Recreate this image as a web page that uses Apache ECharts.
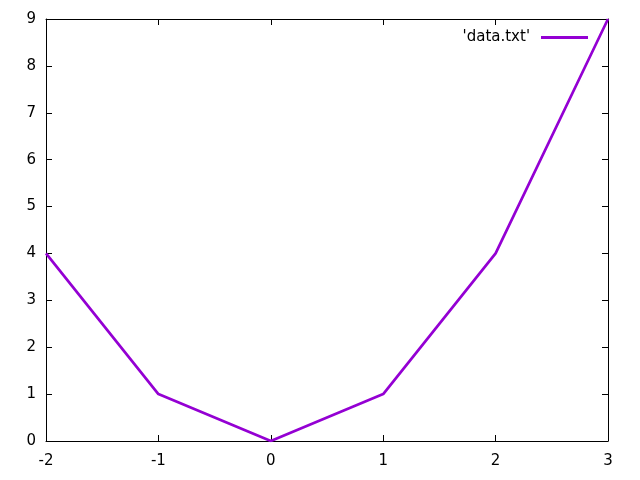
<!DOCTYPE html>
<html><head><meta charset="utf-8">
<script src="https://cdn.jsdelivr.net/npm/echarts@6/dist/echarts.min.js"></script>
<style>html,body{margin:0;padding:0;background:#fff}#c{width:640px;height:480px}</style>
</head><body><div id="c"></div>
<script>
const xValues = [-2, -1, 0, 1, 2, 3];
const yValues = [4, 1, 0, 1, 4, 9];
const seriesName = "'data.txt'";
const FONT = 'DejaVu Sans';
const FS = 15;
const chart = echarts.init(document.getElementById('c'), null, {renderer: 'canvas'});
const axisCommon = {
  type: 'value',
  interval: 1,
  axisLine: {show: true, onZero: false, lineStyle: {color: '#000', width: 1}},
  axisTick: {show: true, inside: true, length: 6, lineStyle: {color: '#000', width: 1}},
  splitLine: {show: false}
};
chart.setOption({
  animation: false,
  backgroundColor: '#fff',
  grid: {left: 46, right: 32, top: 19, bottom: 39, containLabel: false},
  legend: {
    show: true, right: 52, top: 30, align: 'right', padding: 0,
    itemWidth: 47, itemHeight: 3, icon: 'rect',
    textStyle: {fontFamily: FONT, fontSize: FS, color: '#000', padding: [0, 6, 0, 0]},
    data: [seriesName]
  },
  xAxis: [
    Object.assign({}, axisCommon, {position: 'bottom', min: -2, max: 3,
      axisLabel: {show: true, fontFamily: FONT, fontSize: FS, color: '#000', margin: 13}}),
    Object.assign({}, axisCommon, {position: 'top', min: -2, max: 3, axisLabel: {show: false}})
  ],
  yAxis: [
    Object.assign({}, axisCommon, {position: 'left', min: 0, max: 9,
      axisLabel: {show: true, fontFamily: FONT, fontSize: FS, color: '#000', margin: 10}}),
    Object.assign({}, axisCommon, {position: 'right', min: 0, max: 9, axisLabel: {show: false}})
  ],
  series: [{
    name: seriesName,
    type: 'line',
    xAxisIndex: 0, yAxisIndex: 0,
    data: xValues.map((x, i) => [x, yValues[i]]),
    showSymbol: false,
    symbol: 'none',
    lineStyle: {color: '#9400D3', width: 2.7},
    itemStyle: {color: '#9400D3'},
    clip: true
  }]
});
</script></body></html>
